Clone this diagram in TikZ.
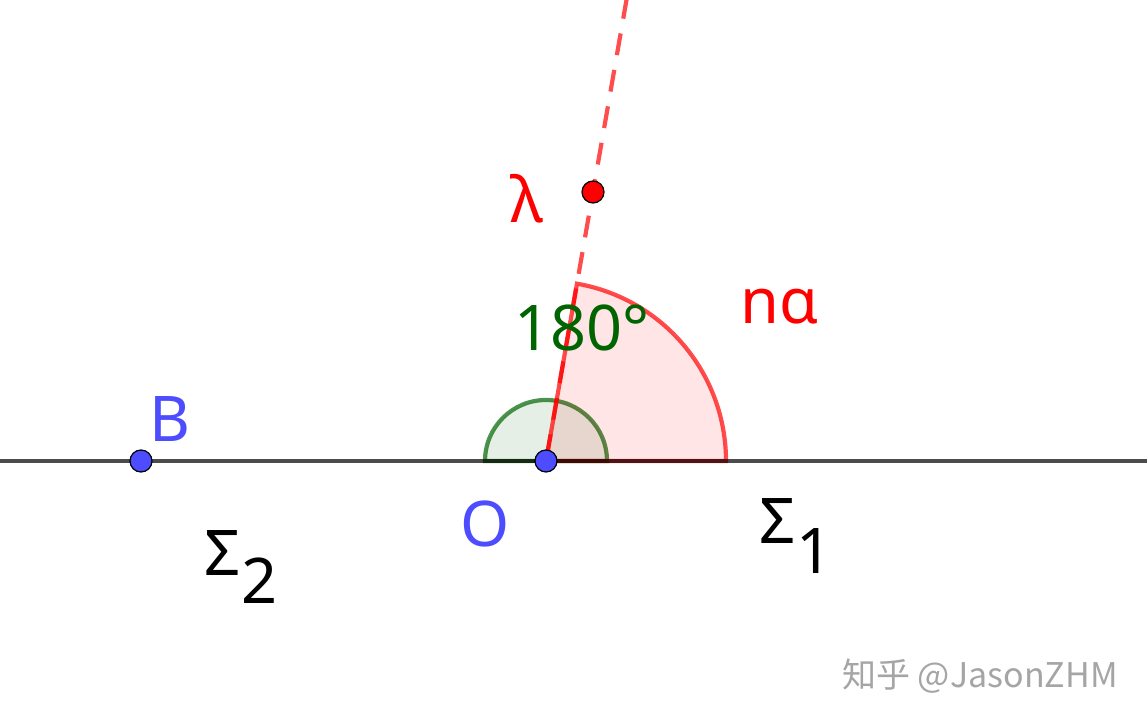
\documentclass[tikz,border=0pt]{standalone}
\usepackage{fontspec}
\setmainfont{Noto Sans}
\newfontfamily\cjkfont{Noto Sans CJK SC}
\definecolor{ptblue}{RGB}{77,77,255}
\definecolor{ggred}{RGB}{255,0,0}
\definecolor{ggdkgreen}{RGB}{0,100,0}
\definecolor{wmgray}{RGB}{165,165,165}
\tikzset{
  ggpoint/.style={circle,draw=black,line width=0.6pt,inner sep=0pt,minimum size=11pt},
  lbl/.style={inner sep=0pt,font=\fontsize{31.5}{38}\selectfont},
  redsector/.style={fill=ggred,fill opacity=0.1,draw=ggred,draw opacity=0.7,line width=2.1pt},
  greensector/.style={fill=ggdkgreen,fill opacity=0.1,draw=ggdkgreen,draw opacity=0.7,line width=2.1pt},
  rayline/.style={draw=ggred,draw opacity=0.7,line width=2.1pt,dash pattern=on 11pt off 7.5pt},
  baseline/.style={draw=black,draw opacity=0.7,line width=2.1pt}
}
\begin{document}
\begin{tikzpicture}[x=0.5pt,y=-0.5pt]
\fill[white] (0,0) rectangle (1147,721);
\useasboundingbox (0,0) rectangle (1147,721);
% anchor coordinates
\coordinate (Oc) at (546,461);
\coordinate (Lleft) at (0,461);
\coordinate (Lright) at (1147,461);
\coordinate (Rtop) at (627,-3);
% sectors
\path[greensector] (Oc) -- ++(30.5pt,0pt) arc[start angle=0,end angle=180,radius=30.5pt] -- cycle;
\path[redsector] (Oc) -- ++(90pt,0pt) arc[start angle=0,end angle=80.09,radius=90pt] -- cycle;
% dashed ray
\path[rayline] (Rtop) -- (Oc);
% horizontal line
\path[baseline] (Lleft) -- (Lright);
% points
\node[ggpoint,fill=ptblue] (B) at (141,461) {};
\node[ggpoint,fill=ptblue] (O) at (546,461) {};
\node[ggpoint,fill=ggred] (P) at (593,192) {};
% labels
\node[lbl,text=ptblue] (Blbl) at (170,419) {B};
\node[lbl,text=ptblue] (Olbl) at (485,524) {O};
\node[lbl,text=ggred] (lam) at (527,199) {λ};
\node[lbl,text=ggred] (na) at (780,307) {nα};
\node[lbl,text=ggdkgreen] (ang) at (582,328) {180°};
\node[lbl,text=black] (S1) at (796,536) {Σ\raisebox{-15pt}{1}};
\node[lbl,text=black] (S2) at (241,567) {Σ\raisebox{-14pt}{2}};
\node[inner sep=0pt,text=wmgray,font=\cjkfont\fontsize{17}{20}\selectfont] (wm) at (980,676) {知乎 @JasonZHM};
\end{tikzpicture}
\end{document}
